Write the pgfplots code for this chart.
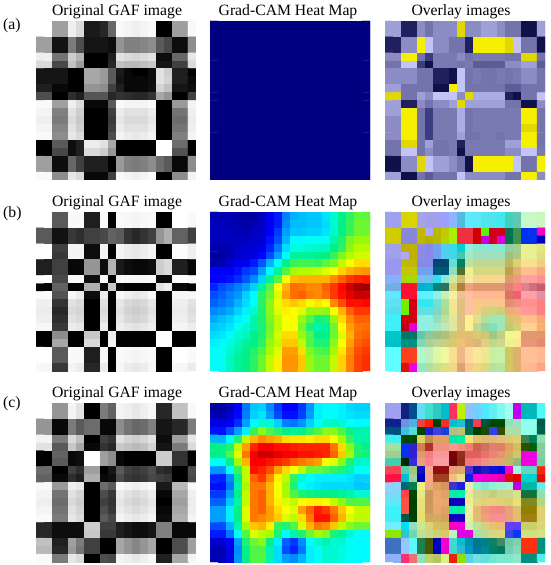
\documentclass[border=0pt]{standalone}
\usepackage{fontspec}
\setmainfont{Liberation Serif}
\usepackage{pgfplots}
\pgfplotsset{compat=1.18}

\pgfplotsset{
  colormap={gafgray}{gray(0cm)=(0); gray(1cm)=(1)},
  colormap={camjet}{rgb255(0cm)=(0,0,128); rgb255(1cm)=(0,0,255); rgb255(3cm)=(0,255,255);
    rgb255(3.5cm)=(0,240,140); rgb255(4cm)=(80,245,70); rgb255(4.5cm)=(170,250,0);
    rgb255(5cm)=(255,255,0); rgb255(6cm)=(255,128,0); rgb255(7cm)=(255,0,0); rgb255(8cm)=(128,0,0)},
  panel/.style={
    anchor=north west, scale only axis, width=160pt, height=159pt,
    xmin=-0.5, xmax=19.5, ymin=-0.5, ymax=19.5, y dir=reverse,
    ticks=none, axis line style={draw=none}, clip=true
  }
}

% one row of the grid per brace group, top row first
\def\hx#1#2#3#4#5#6{rgb255=\number"#1#2,\number"#3#4,\number"#5#6}
\newcommand\buildnum[1]{\gdef\clist{}%
  \foreach \rw [count=\j from 0] in {#1}{%
    \foreach \v [count=\i from 0] in \rw {\xdef\clist{\clist (\i,\j) [\v]}}}}
\newcommand\buildhex[1]{\gdef\clist{}%
  \foreach \rw [count=\j from 0] in {#1}{%
    \foreach \v [count=\i from 0] in \rw {\xdef\clist{\clist (\i,\j) [\expandafter\hx\v]}}}}

\newcommand\numpanel[4]{% x, top, colormap, rows
  \buildnum{#4}%
  \begin{axis}[panel, at={(#1pt,{565pt-#2pt})}, colormap name=#3, point meta min=0, point meta max=100]
    \edef\tmp{\noexpand\addplot[matrix plot*, mesh/cols=20, point meta=explicit] coordinates {\clist};}\tmp
  \end{axis}}
\newcommand\hexpanel[3]{% x, top, rows
  \buildhex{#3}%
  \begin{axis}[panel, at={(#1pt,{565pt-#2pt})}]
    \edef\tmp{\noexpand\addplot[matrix plot*, mesh/cols=20, mesh/color input=explicit, point meta=explicit symbolic] coordinates {\clist};}\tmp
  \end{axis}}

\begin{document}
\begin{tikzpicture}[x=1pt,y=1pt]
\useasboundingbox (0,0) rectangle (550,565);

% row a
\numpanel{36}{21}{gafgray}{
{100,100,62,62,93,85,10,10,15,40,97,95,93,95,97,0,0,62,62,97},
{100,100,62,62,93,85,10,10,15,40,97,95,93,95,97,0,0,62,62,97},
{62,62,7,7,48,30,8,8,8,5,58,50,50,52,55,35,28,5,5,55},
{62,62,7,7,48,30,8,8,8,5,58,50,50,52,55,35,28,5,5,55},
{93,93,45,45,80,70,0,0,0,12,88,85,83,85,88,5,5,40,40,90},
{85,85,28,28,75,60,0,0,0,15,75,72,72,75,78,8,8,25,25,85},
{8,8,8,8,0,0,65,65,60,35,10,3,0,0,5,88,80,12,12,0},
{8,8,8,8,0,0,65,65,60,35,8,3,3,3,5,88,82,12,12,3},
{12,12,3,3,0,0,58,58,55,25,12,3,3,3,6,82,75,8,8,5},
{30,30,0,0,18,12,33,33,33,15,20,18,15,15,20,65,58,0,0,25},
{97,97,62,62,93,85,3,3,3,35,97,95,95,95,97,0,0,60,60,95},
{95,95,50,50,88,80,0,0,0,25,92,88,88,88,92,0,0,45,45,93},
{93,93,48,48,85,78,0,0,0,22,90,85,85,85,90,0,0,42,42,92},
{95,95,52,52,88,80,0,0,0,25,92,88,88,88,92,0,0,45,45,93},
{97,97,55,55,90,85,0,0,0,30,95,92,90,92,95,0,0,50,50,95},
{0,0,35,35,5,12,92,92,88,65,0,0,0,0,0,100,100,42,42,0},
{0,0,28,28,5,12,85,85,80,58,0,0,0,0,0,100,100,32,32,0},
{62,62,5,5,40,25,12,12,12,0,60,50,48,50,55,42,35,3,3,55},
{62,62,5,5,40,25,12,12,12,0,60,50,48,50,55,42,35,3,3,55},
{97,97,55,55,90,85,3,3,3,25,97,95,93,95,97,0,0,55,55,95}}

\numpanel{210}{21}{camjet}{
{0,0,0,0,0,0,0,0,0,0,0,0,0,0,0,0,0,0,0,0},{0,0,0,0,0,0,0,0,0,0,0,0,0,0,0,0,0,0,0,0},
{0,0,0,0,0,0,0,0,0,0,0,0,0,0,0,0,0,0,0,0},{0,0,0,0,0,0,0,0,0,0,0,0,0,0,0,0,0,0,0,0},
{0,0,0,0,0,0,0,0,0,0,0,0,0,0,0,0,0,0,0,0},{0,0,0,0,0,0,0,0,0,0,0,0,0,0,0,0,0,0,0,0},
{0,0,0,0,0,0,0,0,0,0,0,0,0,0,0,0,0,0,0,0},{0,0,0,0,0,0,0,0,0,0,0,0,0,0,0,0,0,0,0,0},
{0,0,0,0,0,0,0,0,0,0,0,0,0,0,0,0,0,0,0,0},{0,0,0,0,0,0,0,0,0,0,0,0,0,0,0,0,0,0,0,0},
{0,0,0,0,0,0,0,0,0,0,0,0,0,0,0,0,0,0,0,0},{0,0,0,0,0,0,0,0,0,0,0,0,0,0,0,0,0,0,0,0},
{0,0,0,0,0,0,0,0,0,0,0,0,0,0,0,0,0,0,0,0},{0,0,0,0,0,0,0,0,0,0,0,0,0,0,0,0,0,0,0,0},
{0,0,0,0,0,0,0,0,0,0,0,0,0,0,0,0,0,0,0,0},{0,0,0,0,0,0,0,0,0,0,0,0,0,0,0,0,0,0,0,0},
{0,0,0,0,0,0,0,0,0,0,0,0,0,0,0,0,0,0,0,0},{0,0,0,0,0,0,0,0,0,0,0,0,0,0,0,0,0,0,0,0},
{0,0,0,0,0,0,0,0,0,0,0,0,0,0,0,0,0,0,0,0},{0,0,0,0,0,0,0,0,0,0,0,0,0,0,0,0,0,0,0,0}}

\hexpanel{385}{21}{
{A0A0D8,A0A0D8,20205E,20205E,8C8CC4,7474AC,8C8CC4,8C8CC4,8C8CC4,E0D800,8C8CC4,8C8CC4,A0A0D8,A0A0D8,8C8CC4,7474AC,7474AC,10104A,10104A,A0A0D8},
{A0A0D8,A0A0D8,20205E,20205E,8C8CC4,7474AC,8C8CC4,8C8CC4,8C8CC4,E0D800,8C8CC4,8C8CC4,A0A0D8,A0A0D8,8C8CC4,7474AC,7474AC,10104A,10104A,A0A0D8},
{20205E,20205E,8C8CC4,8C8CC4,F5F000,C4C4F4,8C8CC4,8C8CC4,7474AC,7474AC,20205E,F5F000,F5F000,F5F000,F5F000,E0D800,C4C4F4,7474AC,7474AC,10104A},
{20205E,20205E,8C8CC4,8C8CC4,F5F000,C4C4F4,8C8CC4,8C8CC4,7474AC,7474AC,20205E,F5F000,F5F000,F5F000,F5F000,E0D800,C4C4F4,7474AC,7474AC,10104A},
{8C8CC4,8C8CC4,F5F000,F5F000,7474AC,3C3C80,7A7AB2,7A7AB2,7A7AB2,8C8CC4,7474AC,7A7AB2,7A7AB2,7A7AB2,7A7AB2,7474AC,7474AC,E0D800,E0D800,7474AC},
{7474AC,7474AC,C4C4F4,C4C4F4,3C3C80,10104A,7A7AB2,7A7AB2,7A7AB2,7474AC,7A7AB2,5C5C98,5C5C98,5C5C98,5C5C98,8C8CC4,8C8CC4,A0A0D8,A0A0D8,5C5C98},
{8C8CC4,8C8CC4,8C8CC4,8C8CC4,7474AC,7474AC,20205E,20205E,10104A,C4C4F4,7474AC,7A7AB2,7474AC,7474AC,7A7AB2,7474AC,7A7AB2,8C8CC4,8C8CC4,7474AC},
{8C8CC4,8C8CC4,8C8CC4,8C8CC4,7474AC,7474AC,20205E,20205E,10104A,C4C4F4,7474AC,7A7AB2,7474AC,7474AC,7A7AB2,7474AC,7A7AB2,8C8CC4,8C8CC4,7474AC},
{A0A0D8,A0A0D8,7474AC,7474AC,7474AC,7474AC,10104A,10104A,F5F000,C4C4F4,7474AC,7474AC,7474AC,7474AC,7474AC,5C5C98,5C5C98,7474AC,7474AC,7474AC},
{E0D800,E0D800,7474AC,7474AC,A0A0D8,8C8CC4,C4C4F4,C4C4F4,C4C4F4,8C8CC4,E0D800,ACACE4,ACACE4,ACACE4,ACACE4,20205E,10104A,7474AC,7474AC,C4C4F4},
{A0A0D8,A0A0D8,20205E,20205E,8C8CC4,7474AC,8C8CC4,8C8CC4,A0A0D8,E0D800,A0A0D8,A0A0D8,A0A0D8,A0A0D8,A0A0D8,7474AC,7474AC,10104A,10104A,8C8CC4},
{A0A0D8,A0A0D8,F5F000,F5F000,7474AC,3C3C80,7A7AB2,7A7AB2,7A7AB2,ACACE4,7474AC,7A7AB2,7A7AB2,7A7AB2,7A7AB2,7A7AB2,7A7AB2,F5F000,F5F000,7474AC},
{8C8CC4,8C8CC4,F5F000,F5F000,7474AC,3C3C80,7A7AB2,7A7AB2,7A7AB2,ACACE4,7474AC,7A7AB2,7A7AB2,7A7AB2,7A7AB2,7A7AB2,7A7AB2,F5F000,F5F000,7474AC},
{8C8CC4,8C8CC4,F5F000,F5F000,7474AC,3C3C80,7A7AB2,7A7AB2,7A7AB2,ACACE4,7474AC,7A7AB2,7A7AB2,7A7AB2,7A7AB2,7A7AB2,7A7AB2,E0D800,E0D800,7474AC},
{8C8CC4,8C8CC4,F5F000,F5F000,7474AC,3C3C80,7A7AB2,7A7AB2,7A7AB2,A0A0D8,7474AC,7474AC,7A7AB2,7A7AB2,7474AC,7A7AB2,7A7AB2,F5F000,F5F000,7474AC},
{7474AC,7474AC,E0D800,E0D800,7474AC,A0A0D8,7474AC,7474AC,7A7AB2,20205E,7A7AB2,7A7AB2,7A7AB2,7A7AB2,7A7AB2,A0A0D8,A0A0D8,F5F000,F5F000,7474AC},
{7474AC,7474AC,C4C4F4,C4C4F4,7474AC,8C8CC4,7474AC,7474AC,7A7AB2,10104A,7A7AB2,7A7AB2,7A7AB2,7A7AB2,7A7AB2,8C8CC4,8C8CC4,C4C4F4,C4C4F4,7A7AB2},
{10104A,10104A,8C8CC4,8C8CC4,E0D800,C4C4F4,A0A0D8,A0A0D8,8C8CC4,7474AC,10104A,F5F000,F5F000,F5F000,F5F000,F5F000,C4C4F4,7474AC,7474AC,F5F000},
{10104A,10104A,8C8CC4,8C8CC4,E0D800,C4C4F4,A0A0D8,A0A0D8,8C8CC4,7474AC,10104A,F5F000,F5F000,F5F000,F5F000,F5F000,C4C4F4,7474AC,7474AC,F5F000},
{A0A0D8,A0A0D8,10104A,10104A,7474AC,5C5C98,7474AC,7474AC,7474AC,C4C4F4,8C8CC4,8C8CC4,8C8CC4,8C8CC4,8C8CC4,7474AC,7474AC,F5F000,F5F000,8C8CC4}}

% row b
\numpanel{36}{212}{gafgray}{
{100,100,35,35,97,97,12,12,97,0,97,96,95,96,97,0,0,100,100,97},
{100,100,35,35,97,97,12,12,97,0,97,96,95,96,97,0,0,100,100,97},
{35,35,7,7,22,18,25,25,28,38,35,20,15,20,25,58,68,38,38,25},
{35,35,7,7,22,18,25,25,28,38,35,20,15,20,25,58,68,38,38,25},
{100,100,25,25,95,95,5,5,95,0,95,92,90,92,95,0,0,98,98,93},
{100,100,22,22,95,95,5,5,95,0,95,92,90,92,95,0,0,98,98,93},
{12,12,25,25,3,3,58,58,5,70,10,5,3,3,5,80,85,12,12,2},
{12,12,25,25,3,3,58,58,5,70,10,5,3,3,5,80,85,12,12,2},
{100,100,28,28,97,97,5,5,97,0,97,96,96,96,97,3,3,98,98,97},
{2,2,38,38,0,0,68,68,3,78,3,0,0,0,0,88,92,3,3,0},
{98,98,32,32,96,92,5,5,92,0,96,93,90,92,97,0,0,96,96,96},
{93,93,20,20,88,85,0,0,88,0,90,84,82,84,90,0,0,93,93,88},
{92,92,15,15,85,83,0,0,85,0,88,82,80,82,88,0,0,92,92,86},
{93,93,18,18,88,85,0,0,88,0,90,84,82,84,90,0,0,93,93,88},
{96,96,22,22,92,90,0,0,92,0,93,90,88,90,93,0,0,95,95,92},
{0,0,55,55,0,0,78,78,0,92,0,0,0,0,0,100,100,0,0,0},
{0,0,65,65,0,0,85,85,0,95,0,0,0,0,0,100,100,0,0,0},
{100,100,35,35,97,97,12,12,97,0,97,96,95,96,97,0,0,100,100,97},
{100,100,35,35,97,97,12,12,97,0,97,96,95,96,97,0,0,100,100,97},
{96,96,22,22,95,92,15,15,92,0,96,92,90,92,96,0,0,96,96,92}}

\numpanel{210}{212}{camjet}{
{5,5,5,4,3,3,6,11,15,25,30,31,32,32,35,40,44,47,51,51},
{6,6,5,5,3,5,6,11,15,26,31,31,32,32,34,40,44,48,52,52},
{6,6,6,5,5,6,7,12,18,28,32,32,33,33,35,40,44,48,52,52},
{6,6,6,6,6,7,8,14,20,30,37,37,38,38,38,42,46,53,55,55},
{4,4,5,7,8,8,10,16,24,34,39,39,40,40,41,44,47,54,57,57},
{3,3,5,8,9,9,13,20,28,37,43,43,43,44,44,48,53,57,59,59},
{4,5,8,10,11,15,21,30,38,44,48,49,49,48,51,53,58,62,66,66},
{12,12,12,14,18,20,28,37,43,50,56,57,57,58,60,62,67,70,72,73},
{12,13,14,17,21,26,33,43,50,62,69,70,70,70,70,74,78,82,84,85},
{16,20,22,25,28,33,43,50,62,70,77,76,74,74,78,82,87,92,96,97},
{20,22,25,27,33,37,47,52,60,72,77,78,75,74,77,82,86,90,93,93},
{22,24,26,30,34,38,47,54,61,66,68,66,62,65,62,74,80,86,86,87},
{26,27,29,33,36,40,46,54,60,64,62,60,55,55,54,62,70,78,82,82},
{29,31,33,36,38,42,46,53,58,62,63,55,50,45,46,55,66,74,78,78},
{32,33,35,38,40,42,46,52,58,62,62,53,46,42,43,52,63,72,76,77},
{34,35,37,40,41,44,46,53,59,66,66,55,50,44,44,52,60,70,77,78},
{36,37,39,41,43,44,47,55,58,68,68,58,50,46,46,54,62,72,78,80},
{38,38,40,42,44,46,50,56,60,72,72,66,53,50,49,56,65,74,80,82},
{38,38,41,43,44,47,52,58,64,73,73,68,55,52,52,58,67,75,81,83},
{38,38,41,43,44,47,52,58,64,73,73,68,55,52,52,58,67,75,81,83}}

\hexpanel{385}{212}{
{A0A0F0,A0A0F0,D8D400,D8D400,A4A4E8,A0A0E8,A0A0EC,99A0FF,8CB4FF,50BCE0,60E8FF,5CE8F8,50E4F0,50E4F0,40E8F0,40D0C0,60C8B0,C8F8C8,C8F8C8,C8F8C0},
{A0A0F0,A0A0F0,D8D400,D8D400,A4A4E8,A0A0E8,A0A0EC,99A0FF,8CB4FF,50BCE0,60E8FF,5CE8F8,50E4F0,50E4F0,40E8F0,40D0C0,60C8B0,C8F8C8,C8F8C8,C8F8C0},
{D0CC00,D0CC00,8888D8,8888D8,C0B800,B0A8F8,B8B800,C0C800,A8F000,F03040,F03040,D00000,60F000,D00018,D00018,007050,409050,0030F0,0030F0,F000C0},
{D0CC00,D0CC00,8888D8,8888D8,C0B800,B8B000,B8B800,B8D000,A8F000,F03040,F03040,D00000,C000E8,D00018,E000E0,007050,409050,0030F0,0030F0,0000C0},
{A0A0E8,A0A0E8,C0B000,C0B000,8C8CE8,8888E8,70A0F0,50D0F0,40D8E8,00D0D0,90F0E0,88E8D0,88E8D0,88E8D0,88E8D0,90D0A0,A0D090,E8F090,E8F090,E0E880},
{A0A0E8,A0A0E8,B0A8F0,C0B000,8C8CE8,8888E8,70A0F0,50D0F0,40D8E8,40C8B0,A0E8C8,A0E0C0,A0E0C0,A0E0C0,A0E0C0,A0C080,B0C880,E8F090,E8F090,E0E080},
{9898F0,9898F0,C0B800,C0B800,8888E8,8888E8,004870,004870,60E0D0,008060,C0E0A0,C0D890,C0D890,C0D890,C0D890,C0B860,E0D070,F8E090,F8E090,F0D080},
{9898F0,9898F0,C0C800,C0C800,70A0F0,70A0F0,005878,005878,90E0C0,507030,F0F090,D8D880,D8D880,D8D880,D8D880,C0A050,E0B070,FFC090,FFC090,F8A880},
{88B0F8,88B0F8,A8D800,A8D800,70C0F0,70C0F0,30E0F0,90E8D0,D0E8A0,D0C070,F8E8A0,F8D890,F8D890,F8D890,F8D890,E09870,F09880,FFA0A0,FFA0A0,FF9090},
{70B0E0,70B0E0,FF1030,FF1030,00B0D0,00B8D0,108070,307060,D8D070,B08040,F0A080,E09870,E09870,E09870,E09870,E08070,FF8080,E08090,D07080,C06070},
{60E8FF,60E8FF,FF1030,FF1030,60F0FF,60F0FF,90F0E8,C8F0B0,F8F0A0,F0C090,FFC0A0,FFB890,FFB890,FFB890,FFB890,E07060,F06070,FFA0A8,FFA0A8,E090A0},
{60E0F0,60E0F0,70F000,D00010,30E8F0,30E8F0,70E0D0,A8E0A0,F0E890,E0C080,FFC0A0,F8C888,F8C888,F8C888,F8C888,E09070,F09080,FF9090,FF9090,FF8080},
{50E0F0,50E0F0,70F000,D00010,60E0E0,60E0E0,80D8C0,B0D890,F0E890,E0C080,FFC0A0,F0D080,D8D080,C8D880,C8D080,E8B078,F8A888,FF9898,FF9898,FF8080},
{40F0F8,40F0F8,D00010,D00010,90F0E0,90F0E0,90E0C0,C0E0A0,E0E8A0,E0C080,FFF090,E0E090,B0E0A0,A0E8B8,A0E8B8,D0C870,E8C070,FFC088,FFC088,F8A878},
{40F0F8,40F0F8,C00010,E000E0,90F0E0,90F0E0,A0E8C8,C0E8B0,E0E8A0,E0C080,FFF090,C0D890,90D8A0,80E0C0,A0E8B0,C0C870,D8D070,FFD090,FFD090,F8B070},
{00C8C8,00C8C8,007868,007868,60C8A8,90C898,A0C080,B0C080,D0C870,E0C070,E0C070,E0C870,D0C878,A0C880,C0D080,F0F890,FFF090,E09870,E09870,E09868},
{00C0C8,00C0C8,009080,009080,80D8B0,A8D098,C0D090,C8D080,D8C870,F0C078,E8B878,D8B878,E0D080,C0D888,D0D890,F0F090,FFE890,E89878,E89878,E88870},
{60FFFF,60FFFF,FF4020,FF4020,B0F8D0,C0F0B8,E0F8A0,F0F8A0,F8E090,F0B888,FFD8A0,F8E898,F0E890,C8F0A0,C8F0A8,D0C860,E0B070,FFC098,FFC098,FFB890},
{60FFFF,60FFFF,FF4020,FF4020,B0F8D0,C0F0B8,E0F8A0,F0F8A0,F8E090,F0B888,FFD8A0,F8E898,F0E890,C8F0A0,C8F0A8,D0C860,E0B070,FFC098,FFC098,FFB890},
{60FFFF,60FFFF,E01000,F000F0,90E8C0,B0E0A0,C8E090,E0E080,F0D888,E0A070,F8C890,F0D880,E0D880,B8E0A0,B8E8A0,D0C860,E0B070,FFB890,FFB890,FFA088}}

% row c
\numpanel{36}{403}{gafgray}{
{100,100,58,58,95,88,0,0,48,38,95,93,90,93,96,15,15,75,75,97},
{100,100,58,58,95,88,0,0,48,38,95,93,90,93,96,15,15,75,75,97},
{58,58,3,3,48,35,42,42,3,3,55,45,40,42,50,8,8,15,15,48},
{58,58,3,3,48,35,42,42,3,3,55,45,40,42,50,8,8,15,15,48},
{95,95,48,48,85,75,0,0,25,20,88,82,80,83,88,5,5,62,62,90},
{88,88,35,35,78,65,3,3,20,15,78,75,72,75,82,8,8,48,48,85},
{0,0,38,38,3,5,100,100,62,55,3,0,0,0,0,80,80,20,20,0},
{0,0,35,35,3,5,100,100,62,55,3,0,0,0,0,80,80,20,20,0},
{42,42,0,0,25,18,62,62,0,8,35,25,22,25,30,18,15,0,0,30},
{38,38,3,3,18,12,68,68,3,5,30,22,20,22,28,25,22,0,0,28},
{97,97,60,60,93,90,0,0,42,35,97,95,93,95,97,10,10,72,72,97},
{95,95,45,45,88,82,0,0,30,22,92,88,85,88,92,3,3,65,65,93},
{93,93,42,42,85,80,0,0,25,20,90,85,82,85,90,0,0,62,62,92},
{95,95,45,45,88,82,0,0,30,22,92,88,85,88,92,3,3,65,65,93},
{97,97,48,48,90,85,0,0,35,28,95,92,90,92,95,5,5,68,68,95},
{15,15,5,5,5,5,80,80,25,25,12,8,5,5,8,50,50,3,3,3},
{15,15,5,5,5,5,78,78,22,22,12,8,5,5,8,50,50,3,3,3},
{75,75,12,12,62,48,25,25,0,0,65,58,52,58,65,0,0,30,30,62},
{72,72,15,15,60,45,25,25,0,0,65,58,52,58,65,0,0,30,30,62},
{97,97,48,48,90,85,0,0,30,28,95,93,90,93,96,12,12,65,65,95}}

\numpanel{210}{403}{camjet}{
{3,3,6,12,24,32,33,26,18,12,12,18,27,36,37,37,36,34,33,33},
{5,5,8,13,25,33,35,28,20,14,14,19,28,36,38,38,36,35,34,34},
{10,10,12,17,28,37,40,40,33,25,24,27,33,38,40,41,40,38,37,37},
{14,14,20,28,36,48,54,50,47,44,43,44,47,50,54,54,50,45,42,42},
{30,30,38,46,58,70,74,72,70,66,65,65,64,66,66,62,56,48,42,42},
{44,44,46,58,72,84,88,88,86,86,85,84,84,84,84,76,66,54,46,44},
{44,44,50,60,76,88,93,92,90,88,88,86,86,85,84,78,68,56,46,45},
{38,38,44,56,70,88,88,86,84,82,78,76,74,72,62,60,54,46,41,40},
{27,27,38,48,58,86,84,80,72,66,62,58,52,52,50,48,46,42,38,38},
{16,16,26,44,58,78,82,74,64,58,48,40,38,36,36,36,36,35,33,33},
{14,14,24,42,56,76,76,70,62,56,46,38,36,35,34,34,34,34,32,32},
{18,18,28,44,58,76,78,70,62,56,50,46,45,44,44,44,43,42,40,40},
{22,22,32,42,58,76,78,70,64,60,58,62,64,64,62,58,54,50,50,50},
{28,28,36,44,60,76,78,72,66,62,60,72,78,85,82,76,68,62,58,58},
{28,28,36,44,60,76,74,72,68,60,58,66,76,86,86,78,70,60,58,58},
{20,20,30,42,56,68,70,64,48,46,50,60,70,76,74,68,58,54,52,52},
{15,15,24,38,50,60,58,56,46,38,42,46,52,56,54,46,43,40,38,37},
{8,8,12,28,46,52,54,44,36,22,18,26,38,40,42,40,40,38,37,37},
{5,5,10,26,44,50,50,42,34,20,16,24,36,38,40,40,39,38,37,37},
{5,5,10,27,44,50,50,42,34,28,26,30,36,38,40,40,39,38,37,37}}

\hexpanel{385}{403}{
{A0A0F0,A0A0F0,102080,005090,60E0F0,40E0D0,30C8C0,00C0D0,FF3060,C0F000,90C0FF,70D0FF,50E8FF,60F0F0,80F8F0,A0FFF0,C000F0,00B8B8,00B8B8,50F8F8},
{A0A0F0,A0A0F0,102080,005090,60E0F0,40E0D0,30C8C0,00C0D0,FF3060,C0F000,90C0FF,70D0FF,50E8FF,60F0F0,80F8F0,A0FFF0,C000F0,00B8B8,00B8B8,50F8F8},
{102090,102090,7090E0,50B0E0,F04040,FF2000,004000,F03020,00C0D0,20C0D0,006080,F04050,005040,004800,004800,90E0C0,A0E0C0,90FFF0,90FFF0,005848},
{005080,005080,40C0E0,50E0D0,004800,2020D0,4040E0,1840E0,B0C080,C0C070,007050,004000,204800,3040F0,384800,B0E0A0,A8E0A8,90FFE8,90FFE8,006050},
{40F0F0,40F0F0,004800,004800,E0D060,C09050,E0A060,E0A060,00E8B0,00F0A0,F8E070,E0C070,E0B870,E0B870,E0C080,E0C870,E0D070,408050,008058,90E0B0},
{A0E0A0,A0E0A0,0830F0,3020D0,D08050,B03030,F09080,F09080,F89890,F09080,F08070,D06050,D07060,E08070,E08060,E0A060,D0C060,305000,006000,80D098},
{A0D090,A0D090,0830F0,3020D0,E09870,F08080,F89898,F89898,800000,903020,E06060,E06060,F07070,F08070,E09870,D0B060,D0C860,F000E0,F000E0,80D0A0},
{40D0B0,40D0B0,002800,3828E0,E8A080,FF8090,F8A0A0,F8A0A0,700010,902818,F07878,F08080,F09080,E8A078,E0A870,C0B868,90B880,F000E0,F000E0,70D0A0},
{FF4050,FF4050,50D0B0,A0C880,1010C0,F8A888,901010,901010,E8A070,E0A870,5030D0,1010B0,2020C0,1010E0,0808E0,F000D0,A0F8E0,60D8C0,60D8C0,FF2010},
{FF1040,FF1040,00C0D0,A0D0A0,0000C0,F8A888,A04020,A04020,F0C080,F0E080,1020E0,F000E0,F000D0,F000C0,E800B0,E01000,E00000,00D0D0,00D0D0,E01000},
{90D0FF,90D0FF,006870,008050,F0F080,F0A880,E0A060,D09860,4030D8,2020E0,E8F0B0,90F0D0,80E8D8,90F0D8,A0F0D0,A8F0D0,C000E0,00B8A8,00B8A8,60F0F0},
{80D8F8,80D8F8,FF4050,004800,E8E888,C89860,E8A870,E0A068,00F0A8,00F0A8,E8E8A0,D0D890,C8D888,C0D080,C8D890,D0D888,D8E090,107040,107040,90E0A8},
{60E8F8,60E8F8,FF5040,004000,E8E078,D09858,F0A870,E8A868,1000C0,1000C0,F0F090,E0D880,E8D078,E8D078,E0D078,D8D070,E8E078,808820,808820,B0D880},
{40F0F8,40F0F8,FF5040,004000,E8E070,D09860,E8A870,E0A068,00F0A8,00F0A8,F0F0A0,E8B870,F09878,F88888,F08880,E8A078,E0C070,908000,908000,E0D070},
{40F0F8,40F0F8,005848,004000,E8E070,D0A860,D8A860,D8A058,1000C0,1000C0,E8F0A0,E0C070,F0A078,F89090,F89090,E8A078,E0C070,A08010,A08010,E0D070},
{70F0FF,70F0FF,00E0F0,90E0C0,C8E890,E0D078,D0C060,D8B860,FF00C0,F000E0,D0F0B0,C0E0A0,D8D080,E8C070,F0B878,6040F0,6040F0,C8D068,C8D068,D8D878},
{90E800,90E800,30C8D0,70D8B0,C0E090,C8D890,D0D070,D8C868,C0F0C0,E000E0,E000E0,A8E0A8,C0D890,D8D880,E0D878,3848E8,0838F8,D0E080,D0E080,D8E080},
{4070C0,4070C0,90C8FF,60F8FF,208050,485800,0000C0,F000D0,40D8D0,00C0D0,0090B0,007890,008080,108060,408860,70C8B0,80D0B0,FF3010,FF3010,009080},
{4070C0,4070C0,90C8FF,60F8FF,208050,485800,0000C0,F000D0,40D8D0,30B8D8,0098C0,0078A0,008898,008068,007860,70D0B0,88D8B8,FF3010,FF3010,009080},
{90B0F8,90B0F8,FF3070,F07070,90E0C0,C0D068,B0C860,E0F080,F02010,90E000,60D0E0,70E0E0,60E0D8,70E8D0,80E8D0,80E8C8,90E8C8,009080,009080,50F0F0}}

% titles and panel letters
\foreach \ty in {549.5,358.5,167.5}{
  \node[anchor=base, font=\fontsize{15.7}{18}\selectfont] at (117,\ty) {Original GAF image};
  \node[anchor=base, font=\fontsize{15.7}{18}\selectfont] at (288,\ty) {Grad-CAM Heat Map};
  \node[anchor=base, font=\fontsize{15.7}{18}\selectfont] at (461,\ty) {Overlay images};
}
\node[anchor=base west, inner sep=0pt, font=\fontsize{15.7}{18}\selectfont] at (3,535) {(a)};
\node[anchor=base west, inner sep=0pt, font=\fontsize{15.7}{18}\selectfont] at (3,347) {(b)};
\node[anchor=base west, inner sep=0pt, font=\fontsize{15.7}{18}\selectfont] at (3,157) {(c)};
\end{tikzpicture}
\end{document}
